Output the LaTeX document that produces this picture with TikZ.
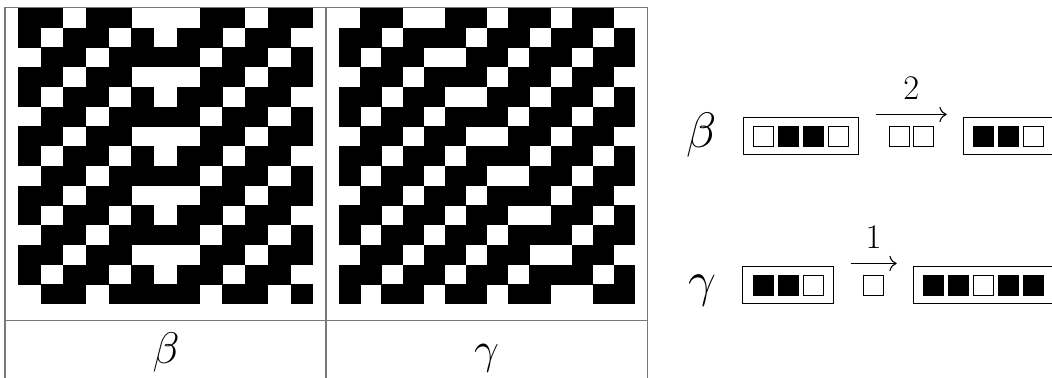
\documentclass[tikz,border=0pt]{standalone}
\usepackage{amsmath,amssymb}
\usetikzlibrary{arrows.meta,positioning,fit}
\definecolor{RuleGray}{RGB}{120,120,120}

\tikzset{
  rule/.style={draw=RuleGray, line width=0.6pt},
  sq/.style={draw, line width=0.5pt, minimum size=10pt, inner sep=0pt},
  wordbox/.style={draw, line width=0.5pt, inner xsep=5pt, inner ysep=3.9pt},
  sym/.style={font=\fontsize{24.88}{30}\selectfont, inner sep=0pt},
  headsym/.style={sym, scale=0.89, transform shape},
  digit/.style={font=\fontsize{17.28}{20}\selectfont, inner sep=0pt},
  arr/.style={-{Computer Modern Rightarrow[scale=1.3]}, line width=0.55pt},
}

\begin{document}
\begin{tikzpicture}[x=0.5pt, y=-0.5pt]
    \useasboundingbox (0,0) rectangle (1052,377);

    % left pattern: three rows repeated
    \foreach \k in {0,...,4}
      \foreach \row [count=\j from 0] in {{1,1,0,1,1,0,0,0,1,1,0,1,1},{1,0,1,1,0,1,0,1,1,0,1,1,0},{0,1,1,0,1,1,1,1,0,1,1,0,1}}
        \foreach \v [count=\c from 0] in \row
          {\ifnum\v=1 \fill ({17.8+\c*22.73},{7.8+(3*\k+\j)*19.75}) rectangle +(22.93,19.95);\fi}

    % right pattern
    \foreach \row [count=\r from 0] in {
        {0,1,1,0,0,1,1,0,1,1,0,1,1,0},{1,1,0,1,1,1,0,1,1,0,1,1,0,1},{1,0,1,1,0,0,1,1,0,1,1,0,1,1},
        {0,1,1,0,1,1,1,0,1,1,0,1,1,0},{1,1,0,1,1,0,0,1,1,0,1,1,0,1},{1,0,1,1,0,1,1,1,0,1,1,0,1,1},
        {0,1,1,0,1,1,0,0,1,1,0,1,1,0},{1,1,0,1,1,0,1,1,1,0,1,1,0,1},{1,0,1,1,0,1,1,0,0,1,1,0,1,1},
        {0,1,1,0,1,1,0,1,1,1,0,1,1,0},{1,1,0,1,1,0,1,1,0,0,1,1,0,1},{1,0,1,1,0,1,1,0,1,1,1,0,1,1},
        {0,1,1,0,1,1,0,1,1,0,0,1,1,0},{1,1,0,1,1,0,1,1,0,1,1,1,0,1},{1,0,1,1,0,1,1,0,1,1,0,0,1,1}}
      \foreach \v [count=\c from 0] in \row
        {\ifnum\v=1 \fill ({339.2+\c*21.13},{7.8+\r*19.75}) rectangle +(21.33,19.95);\fi}

    % table rules
    \draw[rule] (5,380) -- (5,7.3) -- (647.3,7.3) -- (647.3,380);
    \draw[rule] (326,7.3) -- (326,380);
    \draw[rule] (5,320.7) -- (647.3,320.7);
    \node[headsym, anchor=base] (betaT) at (166,363) {$\beta$};
    \node[headsym, anchor=base] (gammaT) at (486.5,363) {$\gamma$};

    % beta rule
    \node[sym, anchor=base] (betaR) at (702,147) {$\beta$};
    \foreach \col [count=\i] in {white,black,black,white}
      \node[sq, fill=\col] (bl\i) at ({763.6+(\i-1)*24.9},136.2) {};
    \node[wordbox, fit=(bl1)(bl4)] (bleft) {};
    \foreach \col [count=\i] in {black,black,white}
      \node[sq, fill=\col] (br\i) at ({983.7+(\i-1)*25},136.2) {};
    \node[wordbox, fit=(br1)(br3)] (bright) {};
    \coordinate (bA) at ([shift={(8.3pt,1.5pt)}]bleft.north east);
    \coordinate (bB) at ([shift={(-8pt,1.5pt)}]bright.north west);
    \draw[arr] (bA) -- node[digit, above=7.1pt] (btwo) {$2$} (bB);
    \node[sq, fill=white] (bm1) at (899.2,136.2) {};
    \node[sq, fill=white] (bm2) at (923.3,136.2) {};

    % gamma rule
    \node[sym, anchor=base] (gammaR) at (702,296) {$\gamma$};
    \foreach \col [count=\i] in {black,black,white}
      \node[sq, fill=\col] (gl\i) at ({763.4+(\i-1)*24.8},285) {};
    \node[wordbox, fit=(gl1)(gl3)] (gleft) {};
    \foreach \col [count=\i] in {black,black,white,black,black}
      \node[sq, fill=\col] (gr\i) at ({933.7+(\i-1)*25},285) {};
    \node[wordbox, fit=(gr1)(gr5)] (gright) {};
    \coordinate (gA) at ([shift={(8.3pt,1.4pt)}]gleft.north east);
    \coordinate (gB) at ([shift={(-8pt,1.4pt)}]gright.north west);
    \draw[arr] (gA) -- node[digit, above=7.1pt] (gone) {$1$} (gB);
    \node[sq, fill=white] (gm1) at (873,285) {};
\end{tikzpicture}
\end{document}
